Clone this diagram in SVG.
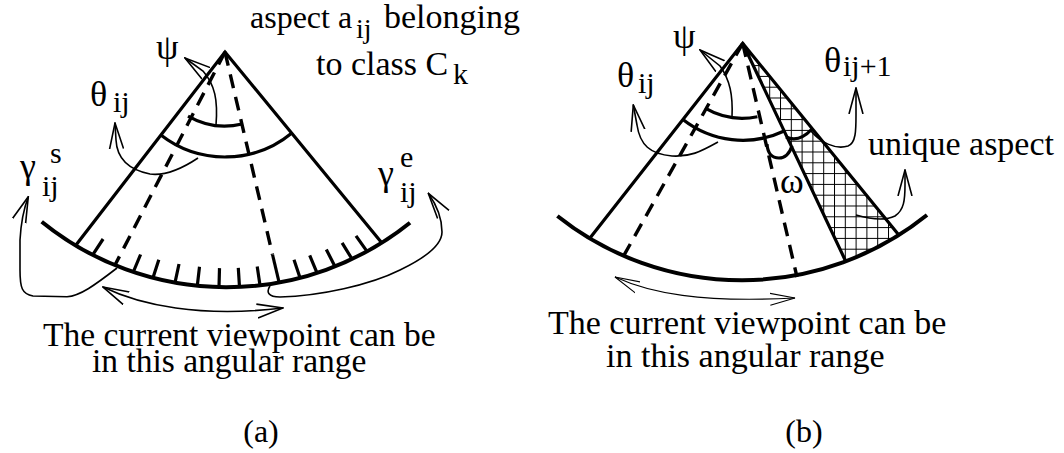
<svg xmlns="http://www.w3.org/2000/svg" width="1064" height="453" viewBox="0 0 1064 453">
<style>
.bg{fill:#fff}
.rim{stroke:#000;stroke-width:4;fill:none}
.side{stroke:#000;stroke-width:3.2;fill:none}
.dash{stroke:#000;stroke-width:3.4;fill:none;stroke-dasharray:14 9}
.arc{stroke:#000;stroke-width:3.2;fill:none}
.tick{stroke:#000;stroke-width:3.2;fill:none}
.lead{stroke:#000;stroke-width:1.6;fill:none;marker-end:url(#ah)}
.lead2{stroke:#000;stroke-width:1.6;fill:none;marker-end:url(#ah);marker-start:url(#ah)}
.lead3{stroke:#000;stroke-width:1.1;fill:none;marker-end:url(#ah3);marker-start:url(#ah3)}
text{font-family:"Liberation Serif","Times New Roman",serif;fill:#000}
.t{font-size:34px}
.t2{font-size:32px}
.g{font-size:36px}
.s{font-size:30px}
.s2{font-size:28px}
.b{font-size:33.5px}
.b2{font-size:34px}
.cap{font-size:32px;text-anchor:middle}
</style>
<defs>
<marker id="ah" viewBox="0 0 27 16" refX="26" refY="8" markerWidth="27" markerHeight="16" markerUnits="userSpaceOnUse" orient="auto-start-reverse">
<path d="M0,1 L26,8 L0,15" fill="none" stroke="#000" stroke-width="1.6"/>
</marker>
<marker id="ah3" viewBox="0 0 26 14" refX="25" refY="7" markerWidth="26" markerHeight="14" markerUnits="userSpaceOnUse" orient="auto-start-reverse">
<path d="M0,1 L25,7 L0,13" fill="none" stroke="#000" stroke-width="1.1"/>
</marker>
<pattern id="grid" patternUnits="userSpaceOnUse" x="780" y="108.3" width="10.8" height="10.8">
<path d="M0.5,0 V10.8 M0,0.5 H10.8" stroke="#000" stroke-width="1" fill="none"/>
</pattern>
</defs>
<rect class="bg" x="0" y="0" width="1064" height="453"/>

<!-- Panel (a) -->
<g id="a-fan">
<path class="rim" d="M41.7,221.7 A293.3,293.3 0 0,0 410,222.7"/>
<path class="side" d="M76,245 L225,52 L381.5,242.5"/>
<path class="dash" d="M225,52 L115,265"/>
<path class="dash" d="M225,52 L272.5,254.5"/>
<path class="tick" d="M272.5,254.5 L279,282"/>
<path class="arc" d="M188,116.1 A74,74 0 0,0 242.1,124"/>
<path class="arc" d="M160.5,134.8 A105,105 0 0,0 292.2,132.7"/>
<path class="tick" d="M92.7,254.9 L103.1,239 M133.3,272 L140.6,254.5 M153,277.8 L158.8,259.7 M175,282.6 L179,264 M197.3,285.7 L199.5,266.8 M219,287.1 L219.5,268.1 M239.5,286.9 L238.3,267.9 M260,285.3 L257.2,266.5 M300,277.8 L294,259.8 M317,272.9 L309.7,255.4 M335,266.4 L326.3,249.5 M352,259 L342.1,242.8 M367,251.4 L356,235.9"/>
</g>
<g id="a-labels">
<text class="g" x="156" y="59">ψ</text>
<text class="g" x="90" y="106">θ<tspan class="s" x="113" y="112">ij</tspan></text>
<text class="g" x="20" y="178">γ<tspan class="s" x="50" y="163">s</tspan><tspan class="s" x="42" y="196">ij</tspan></text>
<text class="g" x="378" y="185">γ<tspan class="s" x="400" y="167">e</tspan><tspan class="s" x="400" y="202">ij</tspan></text>
<text class="t2" x="250" y="28">aspect a<tspan class="s2" x="356" y="38">ij</tspan><tspan class="t" x="384" y="28">belonging</tspan></text>
<text class="t" x="316" y="75">to class C<tspan class="s" x="453" y="84">k</tspan></text>
<text class="b" x="43" y="346">The current viewpoint can be<tspan x="92" y="372">in this angular range</tspan></text>
<text class="cap" x="261" y="442">(a)</text>
</g>
<g id="a-connectors">
<path class="lead" d="M216,125 C218,100 215,85 203,71 L185,58"/>
<path class="lead" d="M198,158 C180,170 165,176 150,174 C130,170 117,160 116,140 L115,123"/>
<path class="lead" d="M117,268 C95,285 80,296 67,296.7 L33,296 C22,294 20,288 20,270 L20,240 C21,222 24,208 28.3,196.7"/>
<path class="lead" d="M270,286 C266,292 268,297 280,297 C320,296 370,285 400,270 C425,258 442,245 442,232 C442,220 438,207 428.3,193.3"/>
<path class="lead2" d="M103,287 C140,305 200,318 283,308"/>
</g>

<!-- Panel (b) -->
<g id="b-fan">
<path d="M742.7,43.3 L898,234 A296,296 0 0,1 845.7,261.2 Z" fill="url(#grid)" stroke="none"/>
<path class="rim" d="M557.4,216 A296,296 0 0,0 927,215"/>
<path class="side" d="M590,238 L742.7,43.3 L898,234 M742.7,43.3 L845.7,261.2"/>
<path class="dash" d="M742.7,43.3 L623,257"/>
<path class="dash" d="M742.7,43.3 L797,277"/>
<path class="arc" d="M705.1,108.2 A75,75 0 0,0 757.4,116.8"/>
<path class="arc" d="M682.9,119.6 A97,97 0 0,0 784.2,131"/>
<path class="arc" d="M786,137 Q799,143 812,129"/>
<path class="arc" d="M767,144 Q768,158 779,158 Q788,158 792,146"/>
</g>
<g id="b-labels">
<text class="g" x="673" y="48">ψ</text>
<text class="g" x="617" y="86.5">θ<tspan class="s" x="638" y="93">ij</tspan></text>
<text class="g" x="824" y="71.5">θ<tspan class="s" x="843" y="76">ij+1</tspan></text>
<text class="t" x="868" y="155">unique aspect</text>
<text class="g" x="780" y="193">ω</text>
<text class="b2" x="548" y="334">The current viewpoint can be<tspan x="606" y="367">in this angular range</tspan></text>
<text class="cap" x="804" y="442">(b)</text>
</g>
<g id="b-connectors">
<path class="lead" d="M732,117 C733,95 730,80 720,66 L700,50"/>
<path class="lead" d="M718,142 C700,152 690,157 672,156 C650,154 640,145 637,125 L633.3,105"/>
<path class="lead" d="M811,131 C820,142 835,150 848,146 C856,143 856,130 856,115 L856,88"/>
<path class="lead" d="M856,215 C870,219 885,221 895,216 C904,210 905,200 905,185 L905,170"/>
<path class="lead3" d="M615,277 C650,293 700,303 795,298"/>
</g>
</svg>
